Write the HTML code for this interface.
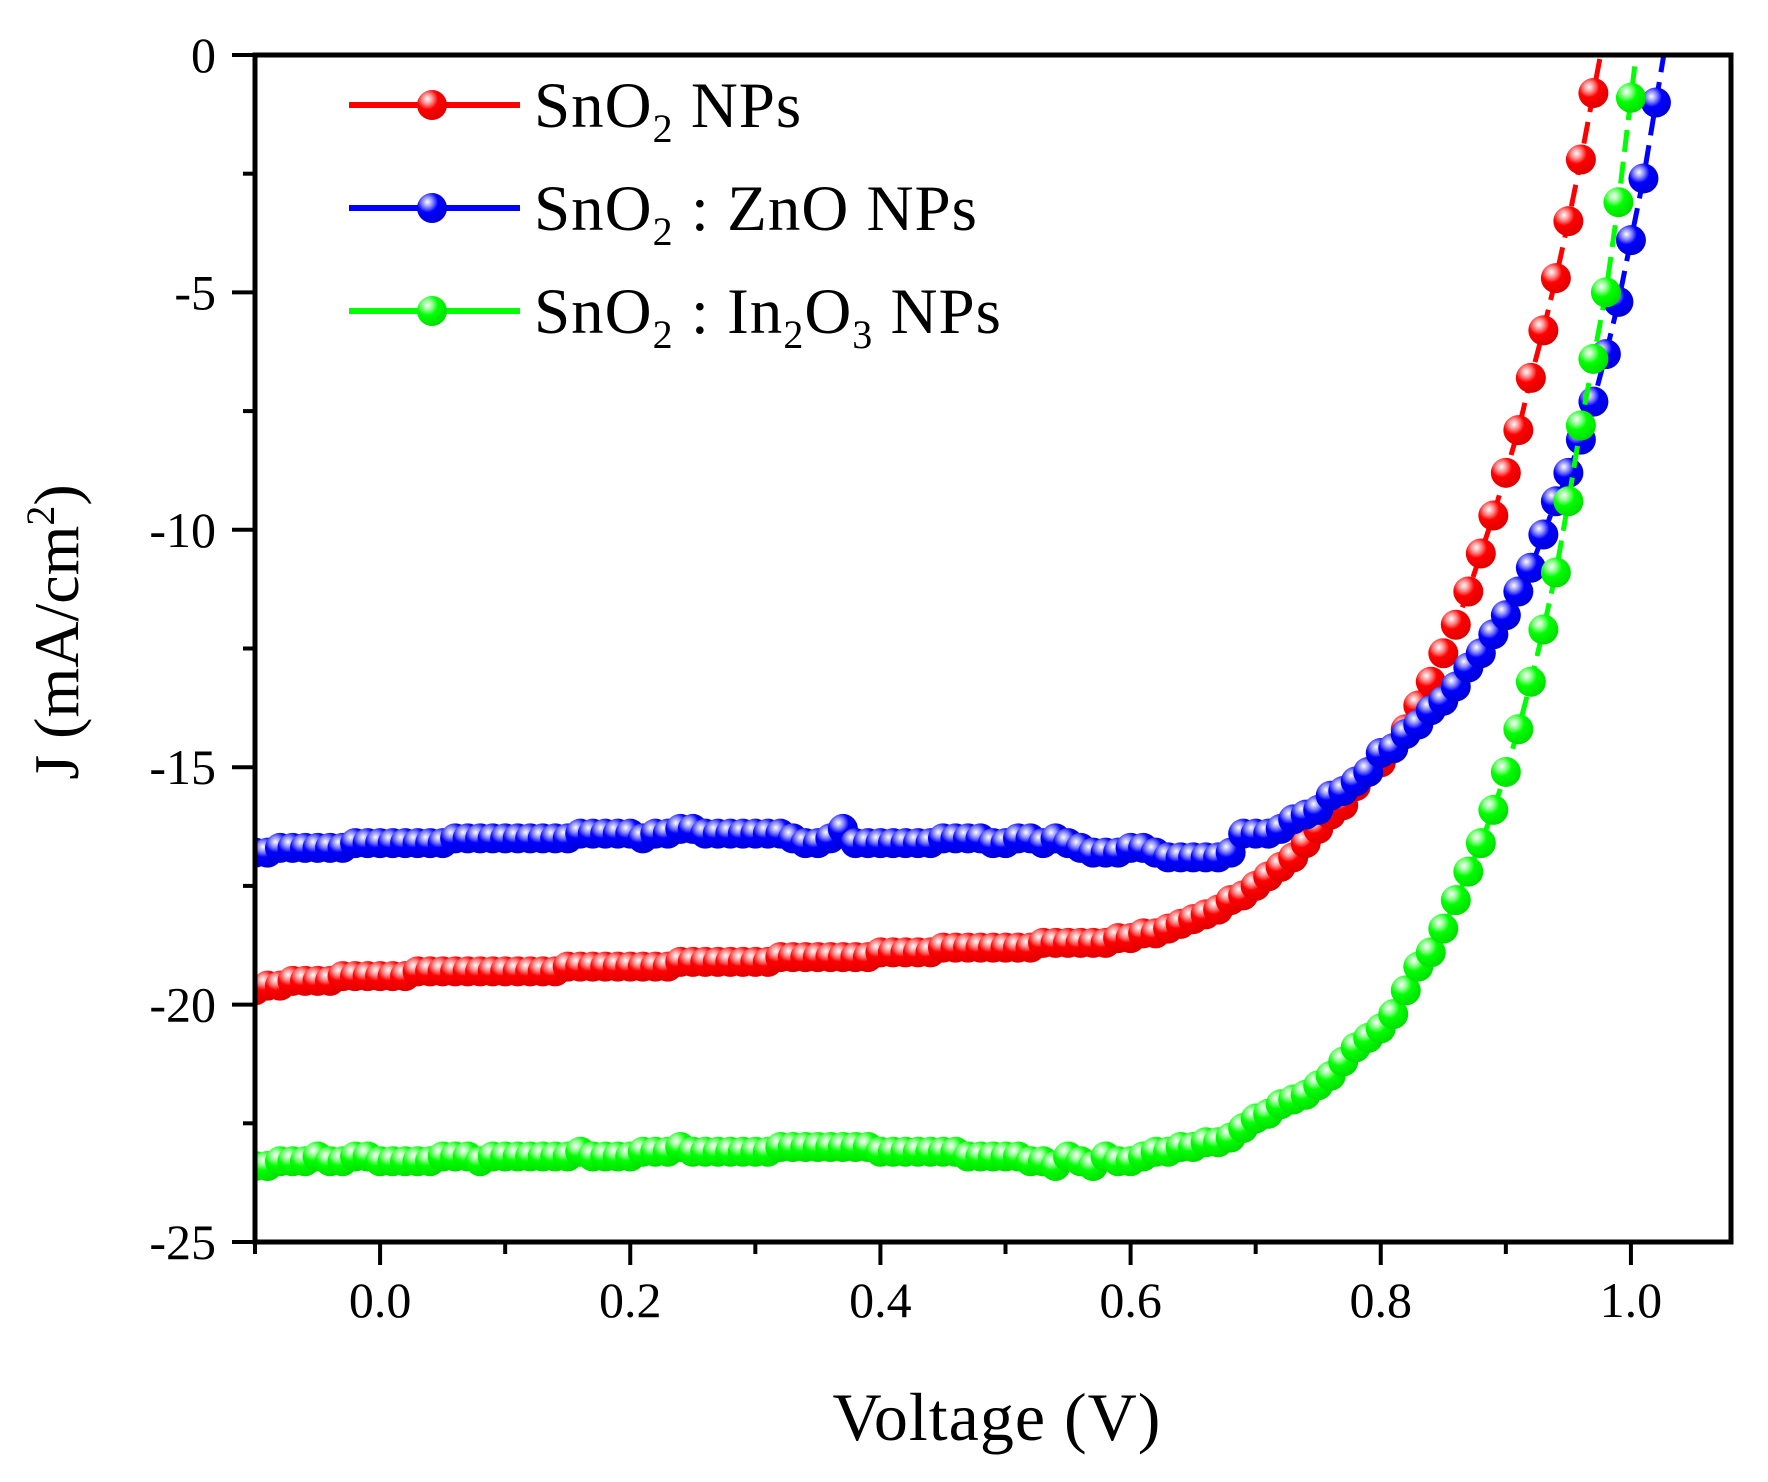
<!DOCTYPE html>
<html><head><meta charset="utf-8"><style>
html,body{margin:0;padding:0;background:#fff;}
svg{display:block;font-family:"Liberation Serif",serif;}
</style></head><body>
<svg id="chart" width="1768" height="1482" viewBox="0 0 1768 1482">
<defs>
<radialGradient id="gr" cx="0.35" cy="0.3" r="0.7"><stop offset="0" stop-color="#fff"/><stop offset="0.25" stop-color="#ff8a8a"/><stop offset="0.5" stop-color="#ff0000"/><stop offset="1" stop-color="#e00000"/></radialGradient>
<radialGradient id="gb" cx="0.35" cy="0.3" r="0.7"><stop offset="0" stop-color="#fff"/><stop offset="0.25" stop-color="#8a8aff"/><stop offset="0.5" stop-color="#0000ff"/><stop offset="1" stop-color="#0000d8"/></radialGradient>
<radialGradient id="gg" cx="0.35" cy="0.3" r="0.7"><stop offset="0" stop-color="#fff"/><stop offset="0.25" stop-color="#8aff8a"/><stop offset="0.5" stop-color="#00ff00"/><stop offset="1" stop-color="#00e000"/></radialGradient>
<clipPath id="pc"><rect x="255" y="55" width="1476" height="1187"/></clipPath>
</defs>
<g id="series" clip-path="url(#pc)"></g>
<g id="axes"></g>
<g id="legend">
<g>
<line x1="349" y1="105" x2="520" y2="105" stroke="#ff0000" stroke-width="6"/><circle cx="432" cy="105" r="15" fill="url(#gr)"/>
<text x="534" y="127" font-size="65" letter-spacing="1">SnO<tspan font-size="40" dy="15">2</tspan><tspan dy="-15"> NPs</tspan></text></g>
<g>
<line x1="349" y1="208" x2="520" y2="208" stroke="#0000ff" stroke-width="6"/><circle cx="432" cy="208" r="15" fill="url(#gb)"/>
<text x="534" y="230" font-size="65" letter-spacing="1">SnO<tspan font-size="40" dy="15">2</tspan><tspan dy="-15"> : ZnO NPs</tspan></text></g>
<g>
<line x1="349" y1="311" x2="520" y2="311" stroke="#00ff00" stroke-width="6"/><circle cx="432" cy="311" r="15" fill="url(#gg)"/>
<text x="534" y="333" font-size="65" letter-spacing="1">SnO<tspan font-size="40" dy="15">2</tspan><tspan dy="-15"> : In</tspan><tspan font-size="40" dy="15">2</tspan><tspan dy="-15">O</tspan><tspan font-size="40" dy="15">3</tspan><tspan dy="-15"> NPs</tspan></text></g>
</g>
<text x="997" y="1440" font-size="68" letter-spacing="1" text-anchor="middle">Voltage (V)</text>
<text transform="translate(78,632) rotate(-90)" font-size="64" text-anchor="middle">J (mA/cm<tspan font-size="40" dy="-24">2</tspan><tspan dy="24">)</tspan></text>
</svg>
<script>
const xStart = -0.10;
const xStep = 0.01;
const redValues = [-19.7,-19.6,-19.6,-19.5,-19.5,-19.5,-19.5,-19.4,-19.4,-19.4,
-19.4,-19.4,-19.4,-19.3,-19.3,-19.3,-19.3,-19.3,-19.3,-19.3,
-19.3,-19.3,-19.3,-19.3,-19.3,-19.2,-19.2,-19.2,-19.2,-19.2,
-19.2,-19.2,-19.2,-19.2,-19.1,-19.1,-19.1,-19.1,-19.1,-19.1,
-19.1,-19.1,-19.0,-19.0,-19.0,-19.0,-19.0,-19.0,-19.0,-19.0,
-18.9,-18.9,-18.9,-18.9,-18.9,-18.8,-18.8,-18.8,-18.8,-18.8,
-18.8,-18.8,-18.8,-18.7,-18.7,-18.7,-18.7,-18.7,-18.7,-18.6,
-18.6,-18.5,-18.5,-18.4,-18.3,-18.2,-18.1,-18.0,-17.8,-17.7,
-17.5,-17.3,-17.1,-16.9,-16.6,-16.3,-16.0,-15.8,-15.4,-15.1,
-14.9,-14.6,-14.2,-13.7,-13.2,-12.6,-12.0,-11.3,-10.5,-9.7,
-8.8,-7.9,-6.8,-5.8,-4.7,-3.5,-2.2,-0.8];
const blueValues = [-16.8,-16.8,-16.7,-16.7,-16.7,-16.7,-16.7,-16.7,-16.6,-16.6,
-16.6,-16.6,-16.6,-16.6,-16.6,-16.6,-16.5,-16.5,-16.5,-16.5,
-16.5,-16.5,-16.5,-16.5,-16.5,-16.5,-16.4,-16.4,-16.4,-16.4,
-16.4,-16.5,-16.4,-16.4,-16.3,-16.3,-16.4,-16.4,-16.4,-16.4,
-16.4,-16.4,-16.4,-16.5,-16.6,-16.6,-16.5,-16.3,-16.6,-16.6,
-16.6,-16.6,-16.6,-16.6,-16.6,-16.5,-16.5,-16.5,-16.5,-16.6,
-16.6,-16.5,-16.5,-16.6,-16.5,-16.6,-16.7,-16.8,-16.8,-16.8,
-16.7,-16.7,-16.8,-16.9,-16.9,-16.9,-16.9,-16.9,-16.8,-16.4,
-16.4,-16.4,-16.3,-16.1,-16.0,-15.9,-15.6,-15.5,-15.3,-15.1,
-14.7,-14.6,-14.3,-14.1,-13.8,-13.6,-13.3,-12.9,-12.6,-12.2,
-11.8,-11.3,-10.8,-10.1,-9.4,-8.8,-8.1,-7.3,-6.3,-5.2,
-3.9,-2.6,-1.0];
const greenValues = [-23.4,-23.4,-23.3,-23.3,-23.3,-23.2,-23.3,-23.3,-23.2,-23.2,
-23.3,-23.3,-23.3,-23.3,-23.3,-23.2,-23.2,-23.2,-23.3,-23.2,
-23.2,-23.2,-23.2,-23.2,-23.2,-23.2,-23.1,-23.2,-23.2,-23.2,
-23.2,-23.1,-23.1,-23.1,-23.0,-23.1,-23.1,-23.1,-23.1,-23.1,
-23.1,-23.1,-23.0,-23.0,-23.0,-23.0,-23.0,-23.0,-23.0,-23.0,
-23.1,-23.1,-23.1,-23.1,-23.1,-23.1,-23.1,-23.2,-23.2,-23.2,
-23.2,-23.2,-23.3,-23.3,-23.4,-23.2,-23.3,-23.4,-23.2,-23.3,
-23.3,-23.2,-23.1,-23.1,-23.0,-23.0,-22.9,-22.9,-22.8,-22.6,
-22.4,-22.3,-22.1,-22.0,-21.9,-21.7,-21.5,-21.2,-20.9,-20.7,
-20.5,-20.2,-19.7,-19.2,-18.9,-18.4,-17.8,-17.2,-16.6,-15.9,
-15.1,-14.2,-13.2,-12.1,-10.9,-9.4,-7.8,-6.4,-5.0,-3.1,
-0.9];
const xTickValues = [-0.1,0.0,0.1,0.2,0.3,0.4,0.5,0.6,0.7,0.8,0.9,1.0];
const xTickLabels = ["","0.0","","0.2","","0.4","","0.6","","0.8","","1.0"];
const yTickValues = [0,-2.5,-5,-7.5,-10,-12.5,-15,-17.5,-20,-22.5,-25];
const yTickLabels = ["0","","-5","","-10","","-15","","-20","","-25"];

const NS="http://www.w3.org/2000/svg";
const X0=255,X1=1731,Y0=55,Y1=1242;
const xMin=-0.1,xMax=1.08,yMin=-25,yMax=0;
function sx(v){return X0+(v-xMin)/(xMax-xMin)*(X1-X0);}
function sy(v){return Y0+(yMax-v)/(yMax-yMin)*(Y1-Y0);}
function mk(tag,attrs,parent){const e=document.createElementNS(NS,tag);for(const k in attrs)e.setAttribute(k,attrs[k]);parent.appendChild(e);return e;}

const sg=document.getElementById('series');
function drawSeries(vals,color,grad,name){
  const g=mk('g',{},sg);
  
  
  const pts=vals.map((v,i)=>[sx(xStart+i*xStep),sy(v)]);
  const n=vals.length;
  const slope=(vals[n-1]-vals[n-2])/xStep;
  const xe=xStart+(n-1)*xStep+(0.5-vals[n-1])/slope;
  pts.push([sx(xe),sy(0.5)]);
  const line=mk('polyline',{points:pts.map(p=>p.join(',')).join(' '),fill:'none',stroke:color,'stroke-width':5,'stroke-dasharray':'22 10'},g);
  
  
  vals.forEach((v,i)=>{
    const c=mk('circle',{cx:sx(xStart+i*xStep),cy:sy(v),r:15,fill:'url(#'+grad+')'},g);
    
    
  });
}
drawSeries(redValues,'#ff0000','gr','series-sno2');
drawSeries(blueValues,'#0000ff','gb','series-sno2-zno');
drawSeries(greenValues,'#00ff00','gg','series-sno2-in2o3');

const ax=document.getElementById('axes');
const frame=mk('rect',{x:X0,y:Y0,width:X1-X0,height:Y1-Y0,fill:'none',stroke:'#000','stroke-width':5},ax);


xTickValues.forEach((v,i)=>{
  const major=xTickLabels[i]!=='';
  const t=mk('line',{x1:sx(v),x2:sx(v),y1:Y1,y2:Y1+(major?23:12),stroke:'#000','stroke-width':4},ax);
  
  
  if(major){
    const tx=mk('text',{x:sx(v),y:1317,'font-size':50,'text-anchor':'middle'},ax);
    tx.textContent=xTickLabels[i];
    
    
  }
});
yTickValues.forEach((v,i)=>{
  const major=yTickLabels[i]!=='';
  const t=mk('line',{x1:X0,x2:X0-(major?23:12),y1:sy(v),y2:sy(v),stroke:'#000','stroke-width':4},ax);
  
  
  if(major){
    const tx=mk('text',{x:216,y:sy(v)+17,'font-size':50,'text-anchor':'end'},ax);
    tx.textContent=yTickLabels[i];
    
    
  }
});
</script>
</body></html>
